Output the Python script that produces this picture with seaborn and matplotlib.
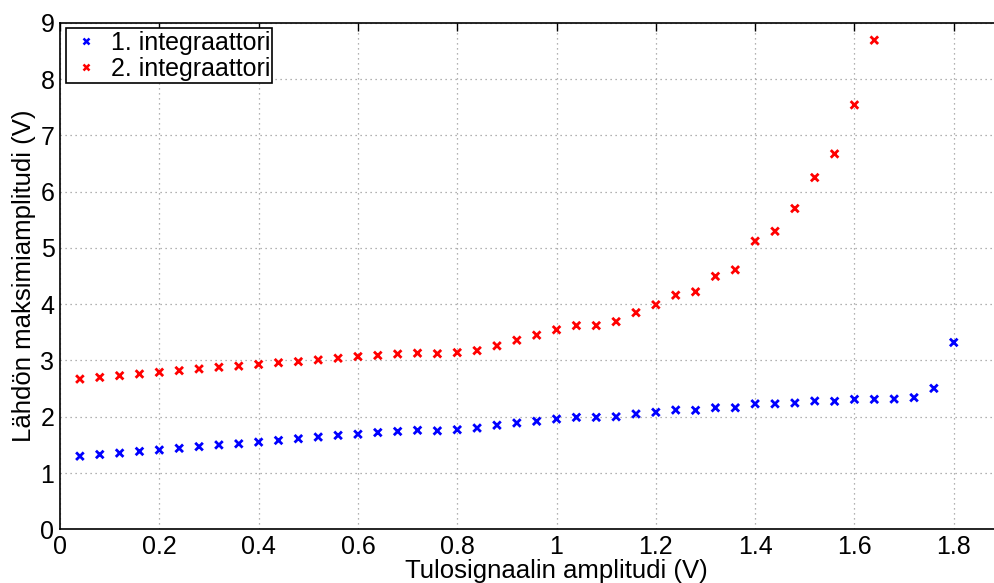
import numpy as np
import pandas as pd
import matplotlib
matplotlib.use("Agg")
import matplotlib.pyplot as plt
from matplotlib.lines import Line2D
from matplotlib.ticker import FuncFormatter
import seaborn as sns

# Input amplitude (V), sampled every 0.04 V
x_int1 = [0.04, 0.08, 0.12, 0.16, 0.20, 0.24, 0.28, 0.32, 0.36, 0.40,
          0.44, 0.48, 0.52, 0.56, 0.60, 0.64, 0.68, 0.72, 0.76, 0.80,
          0.84, 0.88, 0.92, 0.96, 1.00, 1.04, 1.08, 1.12, 1.16, 1.20,
          1.24, 1.28, 1.32, 1.36, 1.40, 1.44, 1.48, 1.52, 1.56, 1.60,
          1.64, 1.68, 1.72, 1.76, 1.80]
y_int1 = [1.30, 1.33, 1.355, 1.385, 1.41, 1.44, 1.47, 1.50, 1.52, 1.55,
          1.58, 1.61, 1.64, 1.67, 1.69, 1.72, 1.74, 1.76, 1.75, 1.77,
          1.80, 1.85, 1.89, 1.92, 1.96, 1.99, 1.99, 2.00, 2.05, 2.08,
          2.12, 2.115, 2.16, 2.16, 2.23, 2.23, 2.245, 2.28, 2.275, 2.31,
          2.31, 2.315, 2.34, 2.505, 3.32]

x_int2 = x_int1[:41]
y_int2 = [2.67, 2.70, 2.73, 2.76, 2.79, 2.82, 2.85, 2.88, 2.90, 2.93,
          2.96, 2.98, 3.01, 3.04, 3.07, 3.09, 3.115, 3.13, 3.12, 3.14,
          3.175, 3.26, 3.36, 3.45, 3.545, 3.62, 3.62, 3.69, 3.85, 3.99,
          4.16, 4.22, 4.495, 4.61, 5.12, 5.295, 5.70, 6.25, 6.67, 7.54,
          8.69]

series_names = ["1. integraattori", "2. integraattori"]
series_colors = ["#0000ff", "#ff0000"]
x_ticks = [0, 0.2, 0.4, 0.6, 0.8, 1.0, 1.2, 1.4, 1.6, 1.8]
y_ticks = [0, 1, 2, 3, 4, 5, 6, 7, 8, 9]

df = pd.DataFrame({
    "x": x_int1 + x_int2,
    "y": y_int1 + y_int2,
    "sarja": [series_names[0]] * len(x_int1) + [series_names[1]] * len(x_int2),
})

sns.set_style("white")
plt.rcParams["font.family"] = ["Liberation Sans", "DejaVu Sans"]
plt.rcParams["text.color"] = "black"
plt.rcParams["axes.labelcolor"] = "black"

fig = plt.figure(figsize=(9.94, 5.83), dpi=100)
ax = fig.add_axes([0.0604, 0.092, 0.999, 0.869])

sns.scatterplot(data=df, x="x", y="y", hue="sarja",
                palette=dict(zip(series_names, series_colors)),
                marker="x", s=30, linewidth=2.0, ax=ax, legend=False)

ax.set_xlim(0, 2)
ax.set_ylim(0, 9)
ax.set_xticks(x_ticks)
ax.set_yticks(y_ticks)
ax.xaxis.set_major_formatter(FuncFormatter(lambda v, p: f"{v:g}"))
ax.tick_params(axis="both", direction="in", length=6, width=1,
               labelsize=18, top=True, right=False, colors="black", pad=4)
ax.grid(True, linestyle=(0, (1, 3)), color="#999999", linewidth=0.9)
for side in ["left", "bottom", "top"]:
    ax.spines[side].set_visible(True)
    ax.spines[side].set_color("black")
    ax.spines[side].set_linewidth(1.2)

ax.set_xlabel("Tulosignaalin amplitudi (V)", fontsize=18.5, labelpad=0)
ax.set_ylabel("Lähdön maksimiamplitudi (V)", fontsize=18.5, labelpad=3)

handles = [Line2D([], [], linestyle="none", marker="x", markersize=4.5,
                  markeredgewidth=1.8, color=c) for c in series_colors]
leg = ax.legend(handles, series_names, loc="upper left", fontsize=18,
                frameon=True, fancybox=False, borderaxespad=0.22,
                handletextpad=0.25, borderpad=0.1, labelspacing=0.08,
                handlelength=1.45)
leg.get_frame().set_edgecolor("black")
leg.get_frame().set_linewidth(1.2)
leg.get_frame().set_alpha(1)

fig.savefig("out.png", dpi=100)
